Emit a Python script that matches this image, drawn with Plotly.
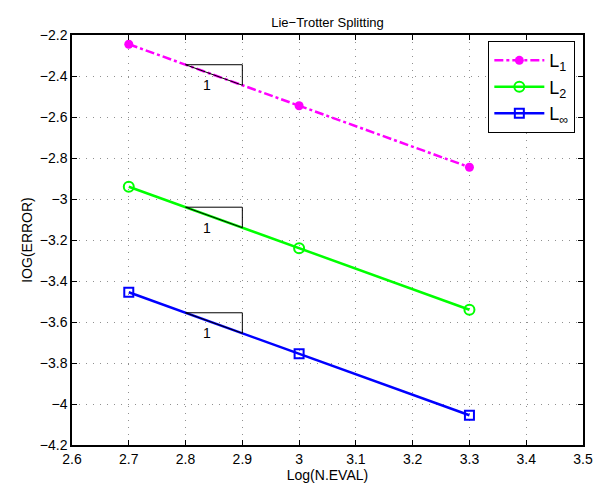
import plotly.graph_objects as go

x_vals = [2.7, 3.0, 3.3]
l1_vals = [-2.245, -2.545, -2.845]
l2_vals = [-2.94, -3.24, -3.54]
linf_vals = [-3.455, -3.755, -4.055]
series_names = ["L<sub>1</sub>", "L<sub>2</sub>", "L<sub>∞</sub>"]
x_ticks = [2.6, 2.7, 2.8, 2.9, 3.0, 3.1, 3.2, 3.3, 3.4, 3.5]
y_ticks = [-2.2, -2.4, -2.6, -2.8, -3.0, -3.2, -3.4, -3.6, -3.8, -4.0, -4.2]
tri_x = [2.8, 2.9]

FONT = "Liberation Sans, Arial, Helvetica, sans-serif"

fig = go.Figure()
fig.add_trace(go.Scatter(x=x_vals, y=l1_vals, name=series_names[0], mode="lines+markers",
                         line=dict(color="#ff00ff", width=2.5, dash="dashdot"),
                         marker=dict(symbol="circle", size=9, color="#ff00ff")))
fig.add_trace(go.Scatter(x=x_vals, y=l2_vals, name=series_names[1], mode="lines+markers",
                         line=dict(color="#00ff00", width=2.5),
                         marker=dict(symbol="circle-open", size=10, color="#00ff00", line=dict(width=2))))
fig.add_trace(go.Scatter(x=x_vals, y=linf_vals, name=series_names[2], mode="lines+markers",
                         line=dict(color="#0000ff", width=2.5),
                         marker=dict(symbol="square-open", size=9, color="#0000ff", line=dict(width=2))))

# slope triangles
for ys in (l1_vals, l2_vals, linf_vals):
    slope = (ys[1] - ys[0]) / (x_vals[1] - x_vals[0])
    y_a = ys[0] + slope * (tri_x[0] - x_vals[0])
    y_b = ys[0] + slope * (tri_x[1] - x_vals[0])
    fig.add_trace(go.Scatter(x=[tri_x[0], tri_x[1], tri_x[1], tri_x[0]],
                             y=[y_a, y_a, y_b, y_a], mode="lines",
                             line=dict(color="black", width=1), showlegend=False,
                             hoverinfo="skip"))
    fig.add_annotation(x=tri_x[0] + 0.038, y=y_a - 0.1, text="1", showarrow=False,
                       font=dict(size=14, color="black", family=FONT))

axis_common = dict(showline=True, linecolor="black", linewidth=1.5, mirror="ticks",
                   ticks="inside", ticklen=5, tickcolor="black",
                   showgrid=True, gridcolor="#909090", griddash="1px,6px", gridwidth=1,
                   zeroline=False, tickfont=dict(size=14, color="black", family=FONT))

fig.update_xaxes(range=[2.6, 3.5], tickvals=x_ticks,
                 ticktext=[("%g" % v) for v in x_ticks],
                 title=dict(text="Log(N.EVAL)", font=dict(size=14, color="black", family=FONT), standoff=2),
                 **axis_common)
fig.update_yaxes(range=[-4.2, -2.2], tickvals=y_ticks,
                 ticktext=[("%g" % v).replace("-", "−") for v in y_ticks],
                 title=dict(text="IOG(ERROR)", font=dict(size=14, color="black", family=FONT), standoff=4),
                 **axis_common)

fig.update_layout(
    width=603, height=491,
    margin=dict(l=72, r=10, t=35, b=46),
    paper_bgcolor="white", plot_bgcolor="white",
    title=dict(text="Lie−Trotter Splitting", x=0.5, xref="paper", y=1, yref="paper",
               yanchor="bottom", pad=dict(b=8),
               font=dict(size=13, color="black", family=FONT)),
    legend=dict(x=0.985, y=0.985, xanchor="right", yanchor="top",
                bordercolor="black", borderwidth=1, bgcolor="white",
                font=dict(size=18, color="black", family=FONT), itemwidth=50,
                tracegroupgap=4),
    showlegend=True,
)

fig.write_html("out.html")
